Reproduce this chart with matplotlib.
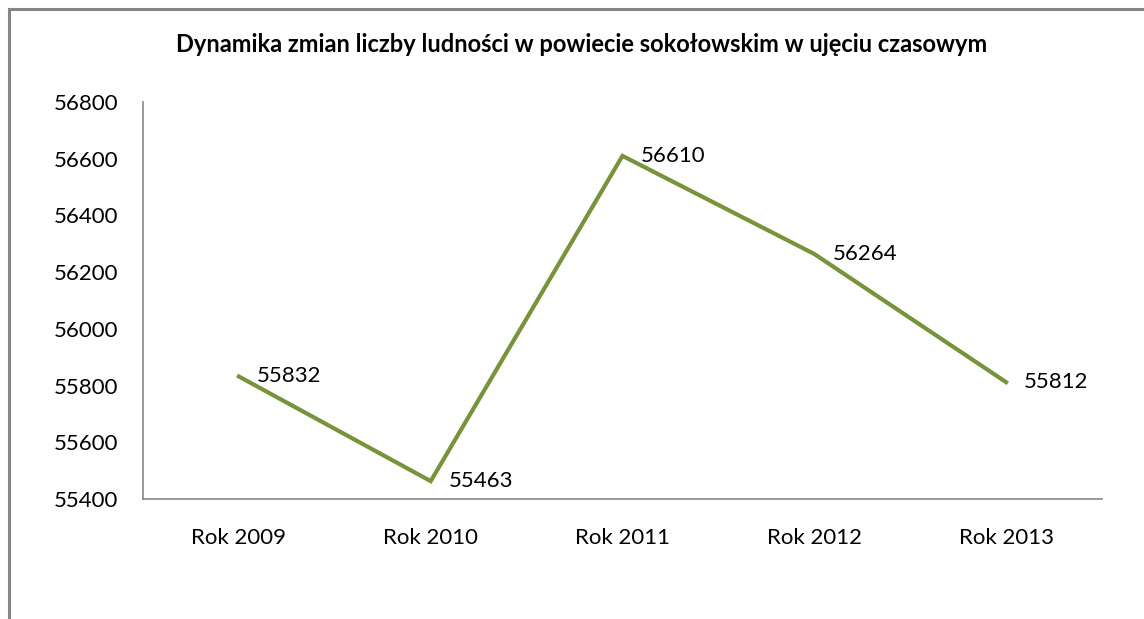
import matplotlib
matplotlib.use('Agg')
from matplotlib import pyplot as plt
from matplotlib.lines import Line2D

lata = ['Rok 2009', 'Rok 2010', 'Rok 2011', 'Rok 2012', 'Rok 2013']
ludnosc = [55832, 55463, 56610, 56264, 55812]
y_ticks = [55400, 55600, 55800, 56000, 56200, 56400, 56600, 56800]

plt.rcParams['font.family'] = ['Lato', 'DejaVu Sans']

fig = plt.figure(figsize=(11.44, 6.19), dpi=100)
ax = fig.add_axes([143/1144, 1 - 499/619, (1102-143)/1144, (499-102)/619])

x = list(range(len(lata)))
ax.plot(x, ludnosc, color='#77933C', linewidth=3.0, solid_joinstyle='miter')
for xi, v in zip(x, ludnosc):
    ax.annotate(str(v), (xi, v), xytext=(13, 0), textcoords='offset points',
                va='center', ha='left', fontsize=16, color='#000000')

ax.set_xlim(-0.5, len(lata) - 0.5)
ax.set_ylim(55400, 56800)
ax.set_yticks(y_ticks)
ax.set_xticks(x)
ax.set_xticklabels(lata)
ax.tick_params(length=0, labelsize=16, colors='#000000')
ax.tick_params(axis='x', pad=21)
ax.tick_params(axis='y', pad=18)
for s in ['top', 'right']:
    ax.spines[s].set_visible(False)
for s in ['left', 'bottom']:
    ax.spines[s].set_color('#868686')
    ax.spines[s].set_linewidth(1.2)

fig.text(582/1144, 1 - 44/619, 'Dynamika zmian liczby ludności w powiecie sokołowskim w ujęciu czasowym',
         ha='center', va='center', fontsize=17, fontweight='bold')

# ramka wykresu (tylko lewa i gorna krawedz widoczna)
fig.add_artist(Line2D([8.5/1144, 8.5/1144], [0, 1 - 9/619], color='#868686', linewidth=2.2))
fig.add_artist(Line2D([8.5/1144, 1], [1 - 9/619, 1 - 9/619], color='#868686', linewidth=2.2))

plt.savefig('out.png', dpi=100)
